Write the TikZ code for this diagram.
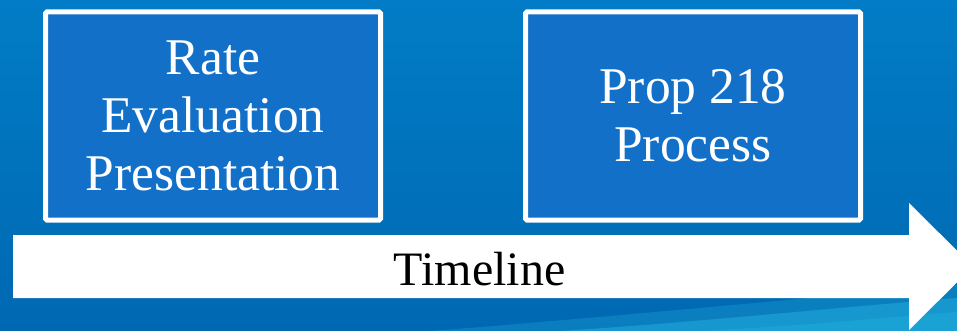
\documentclass[tikz,border=0pt]{standalone}
\usepackage{fontspec}
\setmainfont{Liberation Serif}
\begin{document}
\begin{tikzpicture}[x=1pt,y=-1pt]
\definecolor{bgtop}{RGB}{2,124,198}
\definecolor{bgbot}{RGB}{0,104,178}
\definecolor{boxfill}{RGB}{18,112,200}
\definecolor{wave}{RGB}{40,190,230}
\tikzset{
  stagebox/.style={draw=white, line width=5pt, fill=boxfill, rounded corners=1.5pt,
    minimum width=335pt, minimum height=208pt, inner sep=0pt,
    text=white, align=center, font=\fontsize{51.5}{58}\selectfont},
  timearrow/.style={fill=white, draw=none},
  timelabel/.style={text=black, font=\fontsize{48}{56}\selectfont, anchor=base, inner sep=0pt}
}
\useasboundingbox (0,0) rectangle (957,331);
% background
\shade[top color=bgtop, bottom color=bgbot] (0,0) rectangle (957,331);
\begin{scope}
  \clip (0,0) rectangle (957,331);
  \fill[wave, opacity=0.25] (430,331) .. controls (600,318) and (780,300) .. (957,285) -- (957,331) -- cycle;
  \fill[wave, opacity=0.4] (560,331) .. controls (700,322) and (830,308) .. (957,298) -- (957,331) -- cycle;
  \fill[wave, opacity=0.3] (700,331) .. controls (800,326) and (880,318) .. (957,312) -- (957,331) -- cycle;
\end{scope}
% boxes
\node[stagebox] (rate) at (213,116) {Rate\\Evaluation\\Presentation};
\node[stagebox] (prop) at (693,116) {Prop 218\\Process};
% timeline arrow
\fill[timearrow] (13,235) -- (909,235) -- (909,203) -- (973,266.5) -- (909,330) -- (909,298) -- (13,298) -- cycle;
\node[timelabel] (tl) at (479.5,285) {Timeline};
\end{tikzpicture}
\end{document}
